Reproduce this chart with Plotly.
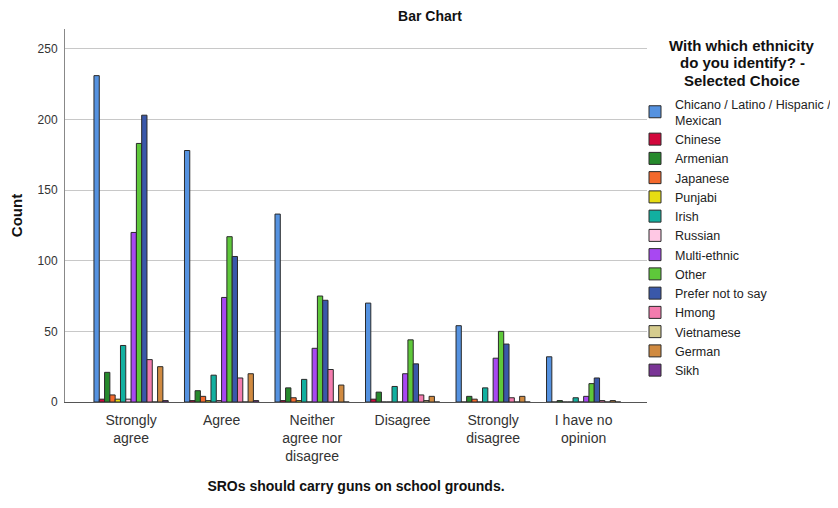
import plotly.graph_objects as go

categories = ["Strongly<br>agree", "Agree", "Neither<br>agree nor<br>disagree", "Disagree",
              "Strongly<br>disagree", "I have no<br>opinion"]

series_names = ["Chicano / Latino / Hispanic /<br>Mexican", "Chinese", "Armenian", "Japanese",
                "Punjabi", "Irish", "Russian", "Multi-ethnic", "Other", "Prefer not to say",
                "Hmong", "Vietnamese", "German", "Sikh"]

chicano    = [231, 178, 133, 70, 54, 32]
chinese    = [2, 1, 1, 2, 0, 0]
armenian   = [21, 8, 10, 7, 4, 1]
japanese   = [5, 4, 3, 0, 2, 0]
punjabi    = [2, 1, 1, 0, 0, 0]
irish      = [40, 19, 16, 11, 10, 3]
russian    = [2, 1, 0, 0, 0, 0]
multi      = [120, 74, 38, 20, 31, 4]
other      = [183, 117, 75, 44, 50, 13]
prefer     = [203, 103, 72, 27, 41, 17]
hmong      = [30, 17, 23, 5, 3, 1]
vietnamese = [0, 0, 0, 1, 0, 0]
german     = [25, 20, 12, 4, 4, 1]
sikh       = [1, 1, 0, 0, 0, 0]

series_values = [chicano, chinese, armenian, japanese, punjabi, irish, russian, multi,
                 other, prefer, hmong, vietnamese, german, sikh]

colors = ["#5592e0", "#d2083c", "#268a2c", "#f4692c", "#e6dc12", "#12b0a0", "#ffc8e4",
          "#a848f2", "#5ec83a", "#3a58aa", "#f47cae", "#d6cc8e", "#d08a40", "#7a3596"]

y_ticks = [0, 50, 100, 150, 200, 250]

legend_title_lines = ["With which ethnicity", "do you identify? -", "Selected Choice"]

FONT = "Liberation Sans, Arial, sans-serif"

# page body has an 8px margin; figure coordinates are offset accordingly
W, H = 830, 500
L, R, T, B = 57, 191, 21, 106
PH = H - T - B  # plot height in px
PW = W - L - R  # plot width in px

fig = go.Figure()
for name, vals, col in zip(series_names, series_values, colors):
    fig.add_trace(go.Bar(
        x=categories, y=vals, name=name,
        marker=dict(color=col, line=dict(color="#2a2a2a", width=1)),
    ))

fig.update_layout(
    width=W, height=H,
    margin=dict(l=L, r=R, t=T, b=B, autoexpand=False),
    paper_bgcolor="white", plot_bgcolor="white",
    barmode="group", bargap=0.18, bargroupgap=0,
    font=dict(family=FONT, color="#222"),
    title=dict(text="<b>Bar Chart</b>", x=(430 - 8) / W, xanchor="center",
               y=1 - 8 / H, yanchor="middle",
               font=dict(size=14, color="#111", family=FONT)),
    xaxis=dict(
        range=[-0.73, 5.70], showline=True, linecolor="#555", linewidth=1,
        ticks="", tickfont=dict(size=14, color="#333"), ticklabelstandoff=5,
        title=dict(text="<b>SROs should carry guns on school grounds.</b>",
                   font=dict(size=14, color="#111"), standoff=17),
    ),
    yaxis=dict(
        range=[0, 264], tickvals=y_ticks, showgrid=True, gridcolor="#c8c8c8", gridwidth=1,
        showline=True, linecolor="#888", linewidth=1, ticks="", zeroline=False,
        tickfont=dict(size=12, color="#333"), ticklabelstandoff=4,
        title=dict(text="<b>Count</b>", font=dict(size=15, color="#111"), standoff=15),
    ),
    legend=dict(
        x=(627 - L) / PW, xanchor="left", y=(H - B - 81) / PH, yanchor="top",
        font=dict(size=12.5, color="#222"), traceorder="normal",
        bgcolor="rgba(0,0,0,0)", itemwidth=30,
    ),
    showlegend=True,
)

for i, line in enumerate(legend_title_lines):
    yc = 37 + i * 17.5
    fig.add_annotation(
        text="<b>" + line + "</b>",
        xref="paper", yref="paper", x=(734 - L) / PW, y=(H - B - yc) / PH,
        xanchor="center", yanchor="middle", showarrow=False,
        font=dict(size=15, color="#111", family=FONT),
    )

fig.write_html("out.html")
